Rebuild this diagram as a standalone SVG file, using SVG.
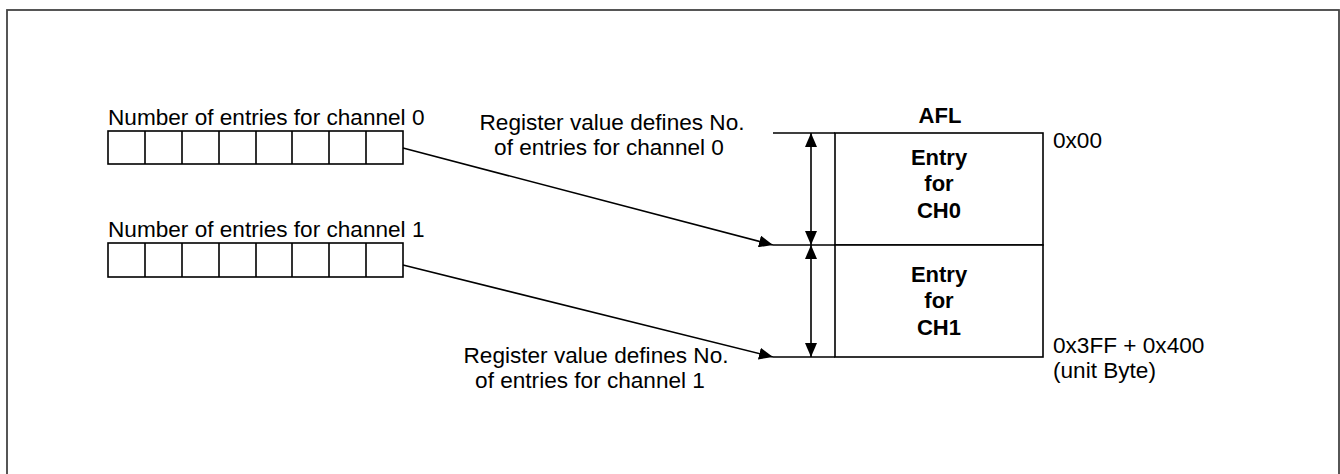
<svg xmlns="http://www.w3.org/2000/svg" width="1340" height="474" viewBox="0 0 1340 474">
<defs>
<style>
.t{font-family:"Liberation Sans",Arial,sans-serif;font-size:22.6px;fill:#000}
.b{font-weight:bold;text-anchor:middle;font-size:22px}
.m{text-anchor:middle}
.ln{stroke:#000;stroke-width:1.6;fill:none}
.box{stroke:#000;stroke-width:1.6;fill:#fff}
</style>
<marker id="ah" viewBox="0 0 14 12" refX="14" refY="6" markerWidth="14" markerHeight="12" markerUnits="userSpaceOnUse" orient="auto-start-reverse">
<path d="M0,0 L14,6 L0,12 Z" fill="#000"/>
</marker>
</defs>
<rect x="7" y="10" width="1332" height="474" fill="#fff" stroke="#444" stroke-width="1.8"/>

<g id="reg0">
<text class="t" x="108" y="125">Number of entries for channel 0</text>
<rect class="box" x="108" y="131" width="295" height="33"/>
<path class="ln" d="M145,131V164M182,131V164M219,131V164M256,131V164M292,131V164M329,131V164M366,131V164"/>
</g>
<g id="reg1">
<text class="t" x="108" y="237">Number of entries for channel 1</text>
<rect class="box" x="108" y="243" width="295" height="34"/>
<path class="ln" d="M145,243V277M182,243V277M219,243V277M256,243V277M292,243V277M329,243V277M366,243V277"/>
</g>

<g id="label0">
<text class="t m" x="612" y="130">Register value defines No.</text>
<text class="t m" x="609" y="155">of entries for channel 0</text>
</g>
<g id="label1">
<text class="t m" x="596" y="363">Register value defines No.</text>
<text class="t m" x="590" y="388">of entries for channel 1</text>
</g>

<g id="afl">
<text class="t b" x="940" y="123">AFL</text>
<rect class="box" x="835" y="133" width="208" height="112"/>
<rect class="box" x="835" y="245" width="208" height="112"/>
<path class="ln" d="M773,133H835M773,245H835M773,357H835"/>
<text class="t b" x="939" y="165">Entry</text>
<text class="t b" x="939" y="191">for</text>
<text class="t b" x="939" y="218">CH0</text>
<text class="t b" x="939" y="282">Entry</text>
<text class="t b" x="939" y="308">for</text>
<text class="t b" x="939" y="335">CH1</text>
<text class="t" x="1053" y="148">0x00</text>
<text class="t" x="1053" y="353">0x3FF + 0x400</text>
<text class="t" x="1053" y="378">(unit Byte)</text>
</g>

<g id="connectors">
<line class="ln" x1="403" y1="148" x2="773" y2="245" marker-end="url(#ah)"/>
<line class="ln" x1="403" y1="265" x2="773" y2="357" marker-end="url(#ah)"/>
<line class="ln" x1="811" y1="133" x2="811" y2="245" marker-start="url(#ah)" marker-end="url(#ah)"/>
<line class="ln" x1="811" y1="245" x2="811" y2="357" marker-start="url(#ah)" marker-end="url(#ah)"/>
</g>
</svg>
